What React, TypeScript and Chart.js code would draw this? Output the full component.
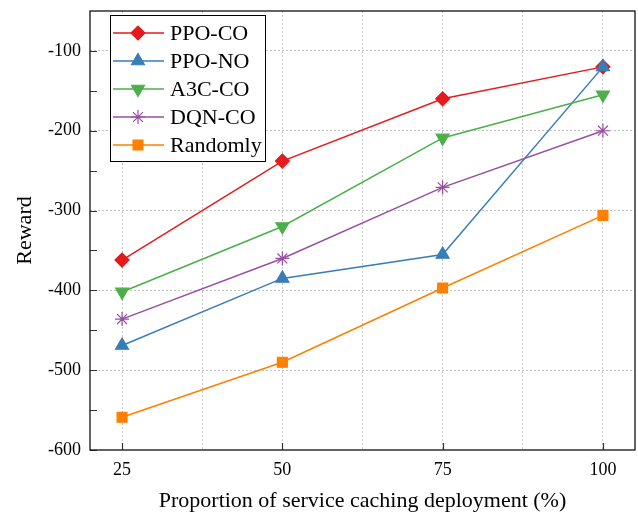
import React, { useEffect, useRef } from 'react';
import { Chart, registerables } from 'chart.js';
import { drawPoint } from 'chart.js/helpers';

Chart.register(...registerables);

const xValues = [25, 50, 75, 100];
const ppoCO = [-362, -238, -160, -120];
const ppoNO = [-469, -385, -355, -120];
const a3cCO = [-402, -320, -209, -155];
const dqnCO = [-436, -360, -271, -200];
const randomly = [-559, -490, -397, -306];
const seriesNames = ['PPO-CO', 'PPO-NO', 'A3C-CO', 'DQN-CO', 'Randomly'];
const seriesValues = [ppoCO, ppoNO, a3cCO, dqnCO, randomly];
const xTickValues = [25, 37.5, 50, 62.5, 75, 87.5, 100];
const xLabelValues = [25, 50, 75, 100];
const yTickValues = [-600, -550, -500, -450, -400, -350, -300, -250, -200, -150, -100];
const yLabelValues = [-600, -500, -400, -300, -200, -100];
const xTitle = 'Proportion of service caching deployment (%)';
const yTitle = 'Reward';

const colors = ['#e41a1c', '#377eb8', '#4daf4a', '#984ea3', '#ff7f00'];
const pointStyles = ['rectRot', 'triangle', 'triangle', 'star', 'rect'];
const rotations = [0, 0, 180, 0, 0];
const radii = [7, 7.5, 7.5, 7, 7];

const FONT = '"Liberation Serif", "Times New Roman", serif';

const framePlugin = {
  id: 'frameAndLegend',
  afterDraw(chart: any) {
    const ctx = chart.ctx;
    const { left, right, top, bottom } = chart.chartArea;
    const xs = chart.scales.x;
    const ys = chart.scales.y;
    ctx.save();
    ctx.setLineDash([]);
    // tick marks (inward)
    ctx.strokeStyle = '#333';
    ctx.lineWidth = 1.2;
    ctx.beginPath();
    yTickValues.forEach((v) => {
      const p = Math.round(ys.getPixelForValue(v)) + 0.5;
      ctx.moveTo(left, p);
      ctx.lineTo(left + 7, p);
    });
    xLabelValues.forEach((v) => {
      const p = Math.round(xs.getPixelForValue(v)) + 0.5;
      ctx.moveTo(p, bottom);
      ctx.lineTo(p, bottom - 7);
    });
    ctx.stroke();
    // frame
    ctx.strokeStyle = '#111';
    ctx.lineWidth = 1.3;
    ctx.strokeRect(left, top, right - left, bottom - top);

    // axis titles
    ctx.fillStyle = '#000';
    ctx.font = `22px ${FONT}`;
    ctx.textAlign = 'center';
    ctx.textBaseline = 'middle';
    ctx.fillText(xTitle, (left + right) / 2, 501);
    ctx.save();
    ctx.translate(25, (top + bottom) / 2);
    ctx.rotate(-Math.PI / 2);
    ctx.fillText(yTitle, 0, 0);
    ctx.restore();

    // legend
    const bx = 110, by = 15, bw = 155, bh = 146;
    ctx.fillStyle = '#fff';
    ctx.fillRect(bx, by, bw, bh);
    ctx.strokeStyle = '#000';
    ctx.lineWidth = 1;
    ctx.strokeRect(bx + 0.5, by + 0.5, bw, bh);
    seriesNames.forEach((name, i) => {
      const cy = 33 + i * 28;
      ctx.strokeStyle = colors[i];
      ctx.fillStyle = colors[i];
      ctx.lineWidth = 1.5;
      ctx.beginPath();
      ctx.moveTo(113, cy);
      ctx.lineTo(164, cy);
      ctx.stroke();
      ctx.lineWidth = 1.2;
      drawPoint(ctx, { pointStyle: pointStyles[i], rotation: rotations[i], radius: radii[i], borderWidth: 1.2 }, 138, cy);
      ctx.fillStyle = '#000';
      ctx.font = `22px ${FONT}`;
      ctx.textAlign = 'left';
      ctx.textBaseline = 'middle';
      ctx.fillText(name, 170, cy + 1);
    });
    ctx.restore();
  },
};

export default function App() {
  const ref = useRef<HTMLCanvasElement>(null);
  useEffect(() => {
    document.body.style.margin = '0';
    const chart = new Chart(ref.current as HTMLCanvasElement, {
      type: 'line',
      data: {
        datasets: seriesNames.map((name, i) => ({
          label: name,
          data: xValues.map((x, j) => ({ x, y: seriesValues[i][j] })),
          borderColor: colors[i],
          backgroundColor: colors[i],
          pointBackgroundColor: colors[i],
          pointBorderColor: colors[i],
          pointStyle: pointStyles[i] as any,
          pointRotation: rotations[i],
          pointRadius: radii[i],
          pointBorderWidth: 1.2,
          borderWidth: 1.5,
          tension: 0,
          fill: false,
          order: 5 - i,
        })),
      },
      options: {
        responsive: false,
        animation: false,
        layout: { autoPadding: false, padding: { left: 0, top: 11, right: 3, bottom: 0 } },
        plugins: { legend: { display: false }, tooltip: { enabled: false } },
        scales: {
          x: {
            type: 'linear',
            min: 20,
            max: 105,
            afterBuildTicks: (s: any) => {
              s.ticks = xTickValues.map((v) => ({ value: v }));
            },
            afterFit: (s: any) => {
              s.height = 64;
              s.paddingLeft = 0;
              s.paddingRight = 0;
            },
            border: { display: false, dash: [2, 2] },
            grid: {
              color: '#c4c4c4',
              lineWidth: 1,
              drawTicks: false,
            },
            ticks: {
              padding: 9,
              color: '#000',
              font: { family: FONT, size: 18 },
              autoSkip: false,
              maxRotation: 0,
              callback: (v: any) => (xLabelValues.includes(Number(v)) ? String(v) : ''),
            },
          },
          y: {
            type: 'linear',
            min: -600,
            max: -50,
            afterBuildTicks: (s: any) => {
              s.ticks = yTickValues.map((v) => ({ value: v }));
            },
            afterFit: (s: any) => {
              s.width = 90;
              s.paddingTop = 0;
              s.paddingBottom = 0;
            },
            border: { display: false, dash: [2, 2] },
            grid: {
              color: (c: any) =>
                c.tick && c.tick.value % 100 === 0 && c.tick.value !== -600 ? '#c4c4c4' : 'rgba(0,0,0,0)',
              lineWidth: 1,
              drawTicks: false,
            },
            ticks: {
              padding: 9,
              color: '#000',
              font: { family: FONT, size: 18 },
              autoSkip: false,
              callback: (v: any) => (yLabelValues.includes(Number(v)) ? String(v) : ''),
            },
          },
        },
      },
      plugins: [framePlugin],
    } as any);
    return () => chart.destroy();
  }, []);
  return (
    <div style={{ position: 'absolute', left: 0, top: 0, width: 638, height: 514 }}>
      <canvas ref={ref} width={638} height={514} style={{ display: 'block' }} />
    </div>
  );
}
